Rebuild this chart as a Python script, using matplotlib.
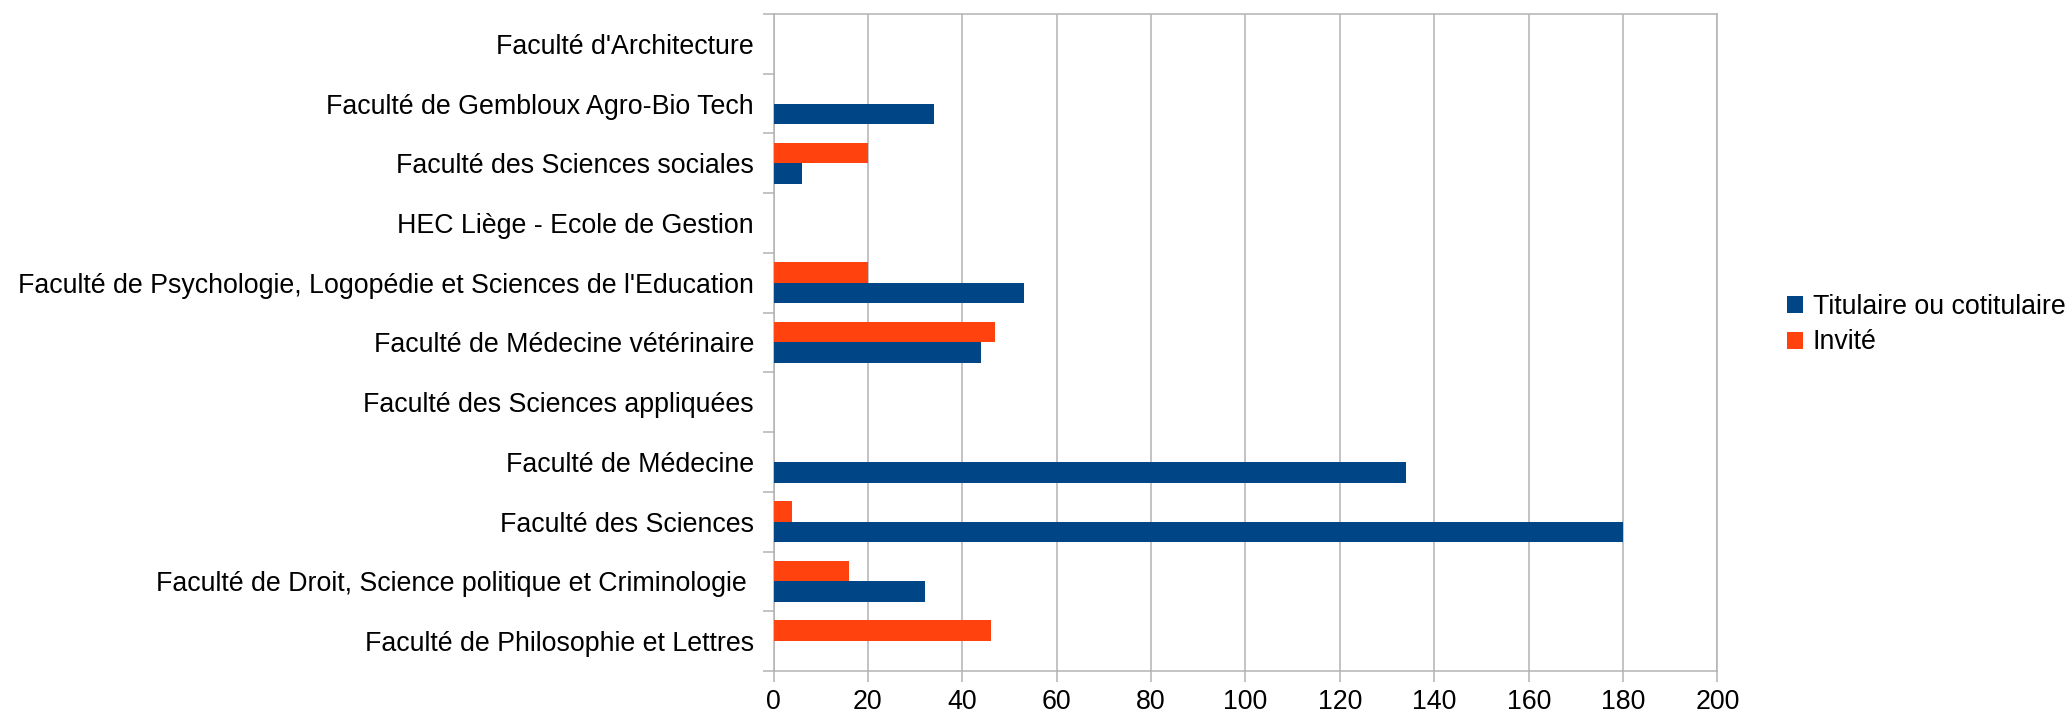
import numpy as np
import matplotlib
matplotlib.use('Agg')
import matplotlib.pyplot as plt
from matplotlib.ticker import MultipleLocator, FixedLocator

plt.rcParams['font.family'] = ['Liberation Sans', 'DejaVu Sans']

# categories listed bottom to top
facultes = [
    "Faculté de Philosophie et Lettres",
    "Faculté de Droit, Science politique et Criminologie ",
    "Faculté des Sciences",
    "Faculté de Médecine",
    "Faculté des Sciences appliquées",
    "Faculté de Médecine vétérinaire",
    "Faculté de Psychologie, Logopédie et Sciences de l'Education",
    "HEC Liège - Ecole de Gestion",
    "Faculté des Sciences sociales",
    "Faculté de Gembloux Agro-Bio Tech",
    "Faculté d'Architecture",
]
titulaire = [0, 32, 180, 134, 0, 44, 53, 0, 6, 34, 0]
invite = [46, 16, 4, 0, 0, 47, 20, 0, 20, 0, 0]

blue = '#004586'
orange = '#ff420e'
grey = '#b3b3b3'
fs = 19.3

fig = plt.figure(figsize=(20.71, 7.17), dpi=100)
ax = fig.add_axes([0.3735, 0.0642, 0.4558, 0.9163])

y = np.arange(len(facultes))
h = 0.347
ax.barh(y - h / 2, titulaire, height=h, color=blue, label='Titulaire ou cotitulaire', zorder=3)
ax.barh(y + h / 2, invite, height=h, color=orange, label='Invité', zorder=3)

ax.set_xlim(0, 200)
ax.set_ylim(-0.5, len(facultes) - 0.5)
ax.xaxis.set_major_locator(MultipleLocator(20))
ax.grid(axis='x', color=grey, linewidth=1.1, zorder=0)

ax.set_yticks(y)
ax.set_yticklabels(facultes)
ax.yaxis.set_minor_locator(FixedLocator(np.arange(-0.5, len(facultes), 1)))
ax.tick_params(axis='y', which='major', length=0, pad=14, labelsize=fs)
ax.tick_params(axis='y', which='minor', length=8, color=grey, width=1.1)
ax.tick_params(axis='x', length=8, color=grey, width=1.1, labelsize=fs, pad=5)

for s in ax.spines.values():
    s.set_color(grey)
    s.set_linewidth(1.1)

fig.legend(loc='center left', bbox_to_anchor=(0.863, 0.547), frameon=False,
           fontsize=fs, handlelength=0.6, handleheight=0.6,
           handletextpad=0.35, labelspacing=0.35, borderaxespad=0, borderpad=0)

fig.savefig('out.png', dpi=100)
